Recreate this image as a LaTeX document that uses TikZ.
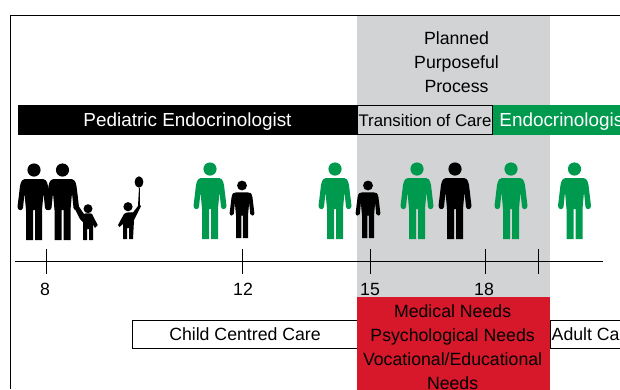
\documentclass[tikz,border=0pt]{standalone}
\usepackage{fontspec}
\setmainfont{Liberation Sans}
\usepackage{xcolor}
\usetikzlibrary{positioning}

\definecolor{bandgray}{HTML}{D1D3D4}
\definecolor{carered}{HTML}{D7182A}
\definecolor{caregreen}{HTML}{009A4E}

\begin{document}
\begin{tikzpicture}[
    x=1pt, y=-1pt,
    font=\fontsize{17.7}{24}\selectfont,
    bar/.style={rectangle, draw=none, minimum height=30pt, inner sep=0pt, align=center},
    barfont/.style={font=\fontsize{18.9}{24}\selectfont, text depth=0pt},
    carebox/.style={rectangle, draw=black, thick, fill=white, minimum height=28pt, inner sep=0pt, align=center},
    lbl/.style={inner sep=0pt, align=center},
    tick/.style={draw=black, line width=0.8pt},
    pics/person/.style={code={
        \fill (0,-70) circle[radius=6.6];
        \fill (-8,0) -- (-8,-30) -- (-9.5,-47) -- (-11,-32)
            .. controls (-12,-29) and (-16,-29) .. (-16.5,-33)
            -- (-14,-54) .. controls (-13,-60) and (-11,-61) .. (-7,-61)
            -- (7,-61) .. controls (11,-61) and (13,-60) .. (14,-54)
            -- (16.5,-33) .. controls (16,-29) and (12,-29) .. (11,-32)
            -- (9.5,-47) -- (8,-30) -- (8,0) -- (1,0) -- (1,-30)
            -- (-1,-30) -- (-1,0) -- cycle;
    }}
]
\useasboundingbox (0,0) rectangle (620,389);

% Band behind the teen years
\node[bar, fill=bandgray, minimum width=193pt, minimum height=281pt, anchor=north west] (band) at (356.5,16) {};

% Frame
\coordinate (frameA) at (10.5,389);
\coordinate (frameB) at (10.5,15);
\coordinate (frameC) at (620,15);
\draw[black, line width=0.9pt] (frameA) -- (frameB) -- (frameC);

\node[lbl] (process) at (456.5,62) {Planned\\Purposeful\\Process};

% Provider bars
\node[bar, barfont, fill=black, text=white, minimum width=339pt] (pediatric) at (187.5,120) {Pediatric Endocrinologist};
\node[bar, barfont, fill=caregreen, text=white, minimum width=142pt] (adultdoc) at (564,120) {Endocrinologist};
\node[carebox, fill=bandgray, minimum width=135pt, minimum height=28.5pt, draw=black, line width=0.7pt, font=\fontsize{16.8}{24}\selectfont, text depth=0pt] (transition) at (425,120) {Transition of Care};

% People
\pic[black] (mum) at (34,240) {person};
\pic[black] (dad) at (62.5,240) {person};
\fill[black] (88,208.7) circle[radius=4.5];
\fill[black] (83,240) -- (83,222) -- (80,219) -- (74,207) -- (74,193) -- (77,193) -- (78,205) -- (84,214)
    .. controls (85,213) and (91,213) .. (92,214) -- (97.7,225) -- (95,228) -- (93,224) -- (93,240)
    -- (89,240) -- (89,229) -- (87,229) -- (87,240) -- cycle;
\fill[black] (128,206.7) circle[radius=4.6];
\fill[black] (123,239) -- (123,224) -- (119.5,227) -- (118,225) -- (124,214)
    .. controls (126,212) and (131,212) .. (133,212.5) -- (138,206) -- (139,188) -- (139.8,188) -- (140,205) -- (141,206)
    -- (134,220) -- (133,239) -- (129,239) -- (129,228) -- (127,228) -- (127,239) -- cycle;
\fill[black] (139,182) ellipse[x radius=4.4, y radius=5.7];
\pic[caregreen] (doctorA) at (210,239) {person};
\pic[black, scale=0.75] (childA) at (242,238) {person};
\pic[caregreen] (doctorB) at (335,239) {person};
\pic[black, scale=0.75] (childB) at (368,238) {person};
\pic[caregreen] (doctorC) at (417,239) {person};
\pic[black] (teen) at (455,239) {person};
\pic[caregreen] (doctorD) at (511,239) {person};
\pic[caregreen] (doctorE) at (574.5,239) {person};

% Age axis
\coordinate (axisL) at (14.6,261.5);
\coordinate (axisR) at (603,261.5);
\draw[tick] (axisL) -- (axisR);

\coordinate (tickA) at (46.6,249);
\coordinate (tickAb) at (46.6,273.5);
\coordinate (tickB) at (242.3,249);
\coordinate (tickBb) at (242.3,273.5);
\coordinate (tickC) at (370.4,249);
\coordinate (tickCb) at (370.4,273.5);
\coordinate (tickD) at (485.8,249);
\coordinate (tickDb) at (485.8,273.5);
\coordinate (tickE) at (538.3,249);
\coordinate (tickEb) at (538.3,273.5);
\draw[tick] (tickA) -- (tickAb);
\draw[tick] (tickB) -- (tickBb);
\draw[tick] (tickC) -- (tickCb);
\draw[tick] (tickD) -- (tickDb);
\draw[tick] (tickE) -- (tickEb);

\node[lbl] (ageA) at (45,289) {8};
\node[lbl] (ageB) at (243,289) {12};
\node[lbl] (ageC) at (370,289) {15};
\node[lbl] (ageD) at (484,289) {18};

% Care boxes
\node[carebox, minimum width=225pt] (childcare) at (245,334) {Child Centred Care};
\node[carebox, minimum width=87pt] (adultcare) at (593.5,334) {Adult Care};
\node[bar, fill=carered, minimum width=193pt, minimum height=98pt, anchor=north west] (needs) at (357,297) {};
\node[lbl] (needstext) at (452.6,347.5) {Medical Needs\\Psychological Needs\\Vocational/Educational\\Needs};

\end{tikzpicture}
\end{document}
